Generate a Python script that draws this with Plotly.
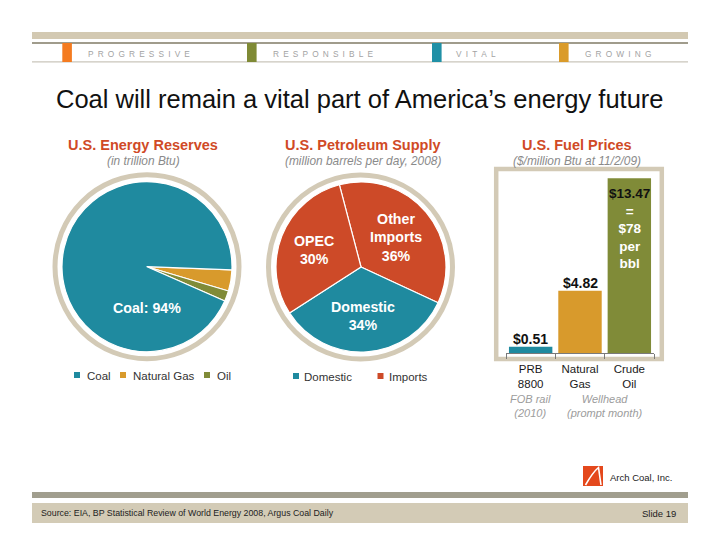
import plotly.graph_objects as go

W, H = 720, 556
FONT = "Liberation Sans, Arial, Helvetica, sans-serif"

# ---------------- data ----------------
header_words = ["PROGRESSIVE", "RESPONSIBLE", "VITAL", "GROWING"]
title_text = "Coal will remain a vital part of America\u2019s energy future"

panel_titles = ["U.S. Energy Reserves", "U.S. Petroleum Supply", "U.S. Fuel Prices"]
panel_subtitles = ["(in trillion Btu)", "(million barrels per day, 2008)",
                   "($/million Btu at 11/2/09)"]

reserves_labels = ["Natural Gas", "Oil", "Coal"]
reserves_values = [4, 2, 94]
reserves_legend = ["Coal", "Natural Gas", "Oil"]

supply_labels = ["Other Imports", "Domestic", "OPEC"]
supply_values = [36, 34, 30]
supply_groups = ["Imports", "Domestic", "Imports"]
supply_legend = ["Domestic", "Imports"]

fuel_categories = ["PRB<br>8800", "Natural<br>Gas", "Crude<br>Oil"]
fuel_prices = [0.51, 4.82, 13.47]
crude_per_bbl = 78
fuel_notes = ["FOB rail<br>(2010)", "Wellhead<br>(prompt month)"]

source_text = "Source: EIA, BP Statistical Review of World Energy 2008, Argus Coal Daily"
slide_text = "Slide 19"
company_text = "Arch Coal, Inc."

# ---------------- style ----------------
TEAL = "#1F8A9F"
RED = "#CD4A28"
GOLD = "#D89A2C"
OLIVE = "#808B38"
BEIGE = "#D3CAB6"
TITLE_RED = "#D04A26"
reserve_colors = {"Coal": TEAL, "Natural Gas": GOLD, "Oil": OLIVE}
supply_colors = {"Domestic": TEAL, "Imports": RED}
header_colors = ["#F47B20", "#7F8A35", "#2090A6", "#DA9B2A"]

# the page body has an 8px default margin; layout positions below are page pixels
OFF = 8


def X(v):
    return (v - OFF) / W


def Y(v):
    return 1 - (v - OFF) / H


shapes = []
annotations = []


def rect(x0, y0, x1, y1, fill, line=None, lw=0, layer="below"):
    shapes.append(dict(type="rect", xref="paper", yref="paper",
                       x0=X(x0), x1=X(x1), y0=Y(y1), y1=Y(y0),
                       fillcolor=fill, layer=layer,
                       line=dict(width=lw, color=line or fill)))


def text(x, y, s, size, color="#222", xanchor="center", yanchor="middle", align="center"):
    annotations.append(dict(xref="paper", yref="paper", x=X(x), y=Y(y), text=s,
                            showarrow=False, xanchor=xanchor, yanchor=yanchor, align=align,
                            font=dict(family=FONT, size=size, color=color)))


# ---------------- header ----------------
rect(32, 32, 688, 39, "#D3C9B2")
rect(32, 42, 688, 44, "#A09C8C")
rect(32, 61.3, 688, 62.4, "#CAC6BB")
for bx, c in zip([62.3, 247, 432, 559], header_colors):
    rect(bx, 43, bx + 9.6, 62, c)
for tx, w in zip([86, 270.7, 454, 582.7], header_words):
    text(tx, 53.5, "\u2002".join(w), 8.3, "#A3A3A3", xanchor="left")

text(360, 99.5, title_text, 25.5, "#111")

for cx, t, st in zip([143.3, 362.5, 576.7], panel_titles, panel_subtitles):
    text(cx, 145, f"<b>{t}</b>", 14.5, TITLE_RED)
    text(cx, 161.5, f"<i>{st}</i>", 11.9, "#8A8A8A")

# ---------------- pies ----------------
fig = go.Figure()

p1c, p2c, pr = (147, 266.7), (361, 267), 85
for (cx, cy) in [p1c, (360.5, 267)]:
    shapes.append(dict(type="circle", xref="paper", yref="paper",
                       x0=X(cx - 92), x1=X(cx + 92), y0=Y(cy + 92), y1=Y(cy - 92),
                       line=dict(color=BEIGE, width=5), fillcolor="rgba(0,0,0,0)",
                       layer="below"))

fig.add_trace(go.Pie(
    labels=reserves_labels, values=reserves_values,
    marker=dict(colors=[reserve_colors[l] for l in reserves_labels],
                line=dict(color="white", width=1.2)),
    sort=False, direction="clockwise", rotation=92.2, textinfo="none",
    hoverinfo="label+percent", showlegend=False,
    domain=dict(x=[X(p1c[0] - pr), X(p1c[0] + pr)], y=[Y(p1c[1] + pr), Y(p1c[1] - pr)]),
))
fig.add_trace(go.Pie(
    labels=supply_labels, values=supply_values,
    marker=dict(colors=[supply_colors[g] for g in supply_groups],
                line=dict(color="white", width=1.2)),
    sort=False, direction="clockwise", rotation=-14.7, textinfo="none",
    hoverinfo="label+percent", showlegend=False,
    domain=dict(x=[X(p2c[0] - pr), X(p2c[0] + pr)], y=[Y(p2c[1] + pr), Y(p2c[1] - pr)]),
))

# slice labels
text(147, 308, f"<b>{reserves_labels[2]}: {reserves_values[2]}%</b>", 14.2, "white")
pie2_label_pos = [(395.5, 237.3), (362.5, 315.5), (314, 250)]
for (lx, ly), lab, v in zip(pie2_label_pos, supply_labels, supply_values):
    s = "<br>".join(f"<b>{part}</b>" for part in lab.split(" ") + [f"{v}%"])
    text(lx, ly, s, 14.2, "white")

# legends (built from the category lists)
for (sx, tx), lab in zip([(74, 85), (120, 131), (204, 215)], reserves_legend):
    rect(sx, 372, sx + 6, 378, reserve_colors[lab])
    text(tx, 375.5, lab, 11.5, "#333", xanchor="left")
for (sx, tx), lab in zip([(293, 301.7), (377.5, 387)], supply_legend):
    rect(sx, 373, sx + 6, 379, supply_colors[lab])
    text(tx, 376.5, lab, 11.5, "#333", xanchor="left")

# ---------------- bar chart ----------------
rect(496.2, 169, 661.8, 359, "white", line=BEIGE, lw=4.5)

fig.add_trace(go.Bar(
    x=fuel_categories, y=fuel_prices, xaxis="x2", yaxis="y2",
    marker=dict(color=[TEAL, GOLD, OLIVE], line=dict(width=0)),
    showlegend=False, hoverinfo="x+y",
))

for i in range(2):
    annotations.append(dict(xref="x2", yref="y2", x=i, y=fuel_prices[i],
                            text=f"<b>${fuel_prices[i]:.2f}</b>", showarrow=False,
                            yanchor="bottom", yshift=-2,
                            font=dict(family=FONT, size=14, color="#111")))
wl = lambda s: f"<b><span style='color:white'>{s}</span></b>"
crude_text = "<br>".join([f"<b>${fuel_prices[2]:.2f}</b>", wl("="), wl(f"${crude_per_bbl}"),
                          wl("per"), wl("bbl")])
annotations.append(dict(xref="x2", yref="y2", x=2, y=fuel_prices[2], text=crude_text,
                        showarrow=False, yanchor="top", yshift=-6,
                        font=dict(family=FONT, size=13.5, color="#111")))

for xi, note in zip([0, 1.5], fuel_notes):
    annotations.append(dict(xref="x2", yref="paper", x=xi, y=Y(405.5),
                            text=f"<i>{note}</i>", showarrow=False, yanchor="middle",
                            font=dict(family=FONT, size=11, color="#9C9C9C")))

# ---------------- footer ----------------
rect(583, 466, 603, 486, "#E4481C")
shapes.append(dict(type="path", xref="paper", yref="paper", layer="above",
                   path=(f"M {X(585.5)} {Y(485)} Q {X(593)} {Y(472)} {X(598.5)} {Y(467.5)} "
                         f"L {X(601)} {Y(485)}"),
                   line=dict(color="white", width=1.6)))
text(608, 477, company_text, 9.5, "#222", xanchor="left")
rect(32, 492, 688, 498, "#A19E8E")
rect(32, 503, 688, 523, "#D3CBB6")
text(39, 513.3, source_text, 8.8, "#222", xanchor="left")
text(678, 513.3, slide_text, 9.5, "#222", xanchor="right")

fig.update_layout(
    width=W, height=H, margin=dict(l=0, r=0, t=0, b=0),
    paper_bgcolor="white", plot_bgcolor="rgba(0,0,0,0)",
    font=dict(family=FONT),
    bargap=0.12, showlegend=False,
    xaxis2=dict(domain=[X(506), X(654)], anchor="y2", type="category",
                showline=True, linecolor="#7A7A7A", linewidth=1,
                ticks="outside", tickson="boundaries", ticklen=5, tickcolor="#7A7A7A",
                tickfont=dict(family=FONT, size=11.5, color="#1A1A1A"),
                ticklabelstandoff=5, showgrid=False, zeroline=False, fixedrange=True),
    yaxis2=dict(domain=[Y(353.3), Y(170)], anchor="x2", range=[0, 14.11],
                visible=False, fixedrange=True),
    shapes=shapes, annotations=annotations,
)

fig.write_html("out.html")
